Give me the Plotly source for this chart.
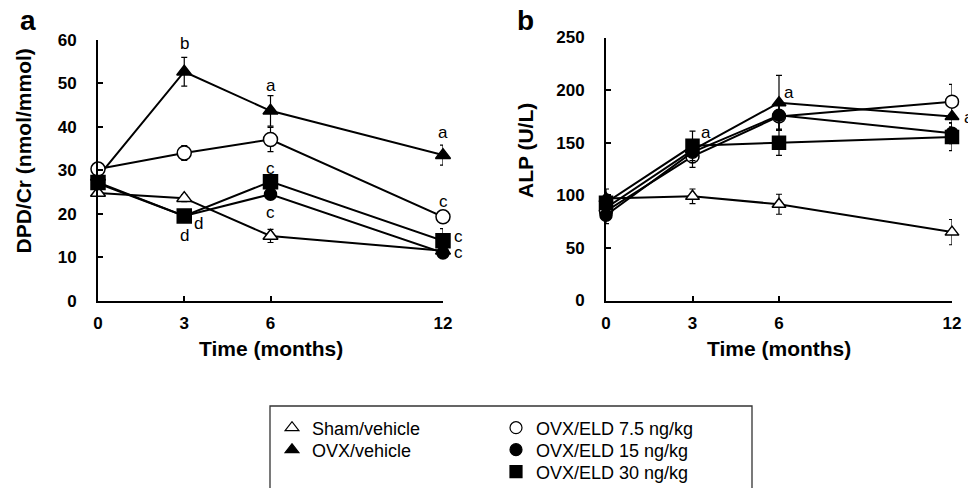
import plotly.graph_objects as go

# ---------------- data ----------------
months = [0, 3, 6, 12]
month_ticks = [0, 3, 6, 12]

group_names = ["Sham/vehicle", "OVX/vehicle", "OVX/ELD 7.5 ng/kg", "OVX/ELD 15 ng/kg", "OVX/ELD 30 ng/kg"]

dpd_sham = [24.8, 23.6, 14.9, 11.5]
dpd_sham_se = [0.8, 0.8, 1.5, 0.8]
dpd_ovx = [28.5, 52.7, 43.7, 33.5]
dpd_ovx_se = [1.0, 3.3, 3.5, 2.3]
dpd_eld75 = [30.3, 34.0, 37.1, 19.3]
dpd_eld75_se = [1.0, 1.7, 2.8, 1.0]
dpd_eld15 = [27.0, 19.5, 24.5, 11.0]
dpd_eld15_se = [1.0, 1.0, 1.2, 1.2]
dpd_eld30 = [27.2, 19.5, 27.4, 13.8]
dpd_eld30_se = [1.0, 1.0, 1.5, 2.8]

alp_sham = [97, 99, 91.5, 65]
alp_sham_se = [9, 7, 9.5, 12]
alp_ovx = [88, 143, 188, 175]
alp_ovx_se = [8, 10, 26, 10]
alp_eld75 = [85, 137, 175, 189]
alp_eld75_se = [8, 10.5, 12, 16.5]
alp_eld15 = [81, 141, 176, 159]
alp_eld15_se = [8, 10, 14, 10]
alp_eld30 = [93, 147, 150, 155.5]
alp_eld30_se = [8, 14, 12, 13]

dpd_ticks = [0, 10, 20, 30, 40, 50, 60]
alp_ticks = [0, 50, 100, 150, 200, 250]

# significance letters: (month, value, letter, x-shift)
dpd_letters_x = [3, 6, 12, 6, 6, 3, 3, 12, 12, 12]
dpd_letters_y = [59.3, 49.6, 38.6, 30.5, 20.4, 17.8, 15.1, 22.8, 14.7, 11.0]
dpd_letters = ["b", "a", "a", "c", "c", "d", "d", "c", "c", "c"]
dpd_letters_shift = [0, 0, 0, 0, 0, 14, 0, 0, 15, 15]

alp_letters_x = [3, 6, 12]
alp_letters_y = [160, 198, 174]
alp_letters = ["a", "a", "a"]
alp_letters_shift = [13, 10, 17]

# ---------------- style ----------------
FONT = "Liberation Sans, Arial, sans-serif"
W, H = 968, 488

styles = [
    dict(symbol="triangle-up", color="white"),
    dict(symbol="triangle-up", color="black"),
    dict(symbol="circle", color="white"),
    dict(symbol="circle", color="black"),
    dict(symbol="square", color="black"),
]

fig = go.Figure()

dpd_series = [(dpd_sham, dpd_sham_se), (dpd_ovx, dpd_ovx_se), (dpd_eld75, dpd_eld75_se),
              (dpd_eld15, dpd_eld15_se), (dpd_eld30, dpd_eld30_se)]
alp_series = [(alp_sham, alp_sham_se), (alp_ovx, alp_ovx_se), (alp_eld75, alp_eld75_se),
              (alp_eld15, alp_eld15_se), (alp_eld30, alp_eld30_se)]

sizes_a = [13, 13, 14, 12, 14]
sizes_b = [12, 12, 13, 12, 13]

for i, (vals, se) in enumerate(dpd_series):
    st = styles[i]
    fig.add_trace(go.Scatter(
        x=months, y=vals, mode="lines+markers", xaxis="x", yaxis="y",
        line=dict(color="black", width=2),
        marker=dict(symbol=st["symbol"], color=st["color"], size=sizes_a[i],
                    line=dict(color="black", width=1.5)),
        error_y=dict(type="data", array=se, color="black", thickness=1.2, width=3),
        cliponaxis=False, showlegend=False, name=group_names[i]))

for i, (vals, se) in enumerate(alp_series):
    st = styles[i]
    fig.add_trace(go.Scatter(
        x=months, y=vals, mode="lines+markers", xaxis="x2", yaxis="y2",
        line=dict(color="black", width=2),
        marker=dict(symbol=st["symbol"], color=st["color"], size=sizes_b[i],
                    line=dict(color="black", width=1.5)),
        error_y=dict(type="data", array=se, color="black", thickness=1.2, width=3),
        cliponaxis=False, showlegend=False, name=group_names[i]))


def px_x(p):
    return p / W


def px_y(p):
    return (H - p) / H


# legend entries (marker only), each in its own legend box placed in a 2-column grid
legend_ids = ["legend", "legend2", "legend3", "legend4", "legend5"]
legend_left_px = [272, 272, 496, 496, 496]
legend_row_px = [428, 450, 428, 450, 472]
for i, name in enumerate(group_names):
    st = styles[i]
    fig.add_trace(go.Scatter(
        x=[None], y=[None], mode="markers", name=name, legend=legend_ids[i],
        marker=dict(symbol=st["symbol"], color=st["color"], size=12,
                    line=dict(color="black", width=1.2)),
        showlegend=True, xaxis="x", yaxis="y"))

tickfont = dict(family=FONT, size=17, color="black", weight="bold")

axis_common = dict(showgrid=False, zeroline=False, showline=True, linecolor="black",
                   linewidth=2, ticks="inside", ticklen=5, tickwidth=1.5, tickcolor="black",
                   tickfont=tickfont, fixedrange=True)

layout_legends = {}
for i, lid in enumerate(legend_ids):
    layout_legends[lid] = dict(
        x=px_x(legend_left_px[i]), y=px_y(legend_row_px[i]), xanchor="left", yanchor="middle",
        font=dict(family=FONT, size=18, color="black"),
        bgcolor="rgba(0,0,0,0)", borderwidth=0, tracegroupgap=0)

fig.update_layout(
    width=W, height=H, autosize=False,
    margin=dict(l=0, r=0, t=0, b=0, pad=0, autoexpand=False),
    plot_bgcolor="white", paper_bgcolor="white",
    font=dict(family=FONT, color="black"),
    xaxis=dict(domain=[px_x(98), px_x(443)], range=[0, 12], tickvals=month_ticks,
               anchor="y", ticklabelstandoff=6, **axis_common),
    yaxis=dict(domain=[px_y(300.7), px_y(40)], range=[0, 60], tickvals=dpd_ticks,
               anchor="x", ticklabelstandoff=16, **axis_common),
    xaxis2=dict(domain=[px_x(606), px_x(952)], range=[0, 12], tickvals=month_ticks,
                anchor="y2", ticklabelstandoff=6, **axis_common),
    yaxis2=dict(domain=[px_y(300.5), px_y(37.5)], range=[0, 250], tickvals=alp_ticks,
                anchor="x2", ticklabelstandoff=16, **axis_common),
    **layout_legends,
)

# legend box
fig.add_shape(type="rect", xref="paper", yref="paper",
              x0=px_x(270), x1=px_x(752), y0=px_y(520), y1=px_y(406),
              line=dict(color="#333333", width=1.3), fillcolor="rgba(0,0,0,0)", layer="above")

ann = []


def paper_text(text, xp, yp, size, angle=0):
    return dict(text=text, x=px_x(xp), y=px_y(yp), xref="paper", yref="paper",
                xanchor="center", yanchor="middle", showarrow=False, textangle=angle,
                font=dict(family=FONT, size=size, color="black"))


# axis titles
ann.append(paper_text("<b>Time (months)</b>", 271, 348, 21))
ann.append(paper_text("<b>Time (months)</b>", 779, 348, 21))
ann.append(paper_text("<b>DPD/Cr (nmol/mmol)</b>", 22.5, 151, 21, -90))
ann.append(paper_text("<b>ALP (U/L)</b>", 525, 151, 21, -90))
# panel labels
ann.append(paper_text("<b>a</b>", 28, 20, 28))
ann.append(paper_text("<b>b</b>", 525, 20, 28))

for xv, yv, t, s in zip(dpd_letters_x, dpd_letters_y, dpd_letters, dpd_letters_shift):
    ann.append(dict(text=t, x=xv, y=yv, xref="x", yref="y", xshift=s, showarrow=False,
                    xanchor="center", yanchor="middle",
                    font=dict(family=FONT, size=17, color="black")))
for xv, yv, t, s in zip(alp_letters_x, alp_letters_y, alp_letters, alp_letters_shift):
    ann.append(dict(text=t, x=xv, y=yv, xref="x2", yref="y2", xshift=s, showarrow=False,
                    xanchor="center", yanchor="middle",
                    font=dict(family=FONT, size=17, color="black")))

fig.update_layout(annotations=ann)

fig.write_html("out.html", config={"displayModeBar": False},
               post_script="document.body.style.margin='0';")
